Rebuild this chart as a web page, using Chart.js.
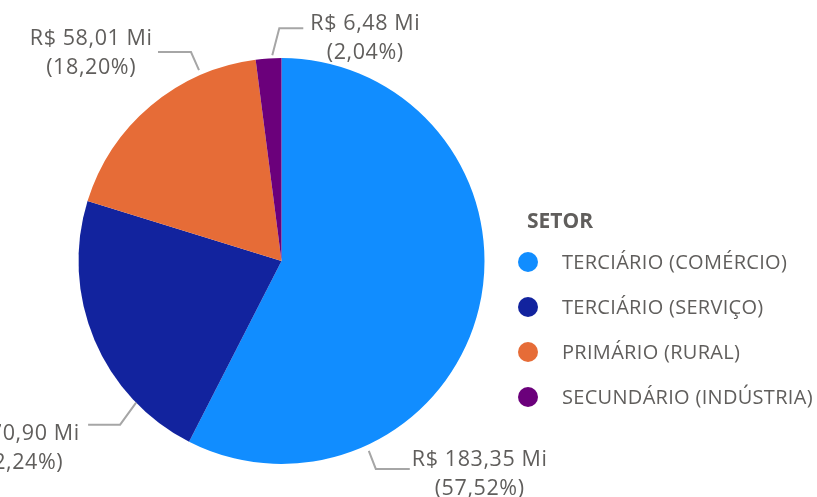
<!DOCTYPE html>
<html>
<head>
<meta charset="utf-8">
<script src="https://cdn.jsdelivr.net/npm/chart.js@4.4.1/dist/chart.umd.min.js"></script>
<style>
    html, body { margin: 0; padding: 0; background: #fff; overflow: hidden; }
    canvas { display: block; }
</style>
</head>
<body>
<canvas id="graficoSetor" width="817" height="497"></canvas>
<script>
// dados por setor (R$ milhões)
const setores = ["TERCIÁRIO (COMÉRCIO)", "TERCIÁRIO (SERVIÇO)", "PRIMÁRIO (RURAL)", "SECUNDÁRIO (INDÚSTRIA)"];
const valores = [183.35, 70.90, 58.01, 6.48];
const percentuais = [57.52, 22.24, 18.20, 2.04];
const cores = ["#118DFF", "#12239E", "#E66C37", "#6B007B"];

// posição das linhas de chamada (f = fração do arco onde a linha sai)
const chamadas = [
    { f: 0.75,  gap: 6, ex: 7,   ey: 18,  h: 34,  tx: 2,  ty: -3 },
    { f: 0.233, gap: 0, ex: -16, ey: 22,  h: -32, tx: -9, ty: 15 },
    { f: 0.755, gap: 5, ex: -8,  ey: -18, h: -33, tx: -6, ty: -7 },
    { f: 0.65,  gap: 3, ex: 7,   ey: -27, h: 24,  tx: 7,  ty: 2 }
];

const fonte = '"Segoe UI", "Open Sans", sans-serif';
const corTexto = "#605E5C";

function fmt(v) {
    return v.toFixed(2).replace(".", ",");
}

const rotulosPlugin = {
    id: "rotulos",
    afterDraw(chart) {
        const ctx = chart.ctx;
        const meta = chart.getDatasetMeta(0);
        ctx.save();
        meta.data.forEach(function (arc, i) {
            const c = chamadas[i];
            const p = arc.getProps(["x", "y", "startAngle", "endAngle", "outerRadius"], true);
            const ang = p.startAngle + c.f * (p.endAngle - p.startAngle);
            const r = p.outerRadius + c.gap;
            const x0 = p.x + r * Math.cos(ang);
            const y0 = p.y + r * Math.sin(ang);
            const x1 = x0 + c.ex, y1 = y0 + c.ey;
            const x2 = x1 + c.h;

            ctx.strokeStyle = "#A6A6A6";
            ctx.lineWidth = 2;
            ctx.beginPath();
            ctx.moveTo(x0, y0);
            ctx.lineTo(x1, y1);
            ctx.lineTo(x2, y1);
            ctx.stroke();

            const l1 = "R$ " + fmt(valores[i]) + " Mi";
            const l2 = "(" + fmt(percentuais[i]) + "%)";
            ctx.font = "21.5px " + fonte;
            ctx.letterSpacing = "0.6px";
            ctx.fillStyle = corTexto;
            ctx.textBaseline = "alphabetic";
            ctx.textAlign = "left";
            const w = ctx.measureText(l1).width - 0.6;
            const w2 = ctx.measureText(l2).width - 0.6;
            const left = c.h > 0 ? x2 + c.tx : x2 + c.tx - w;
            const base = y1 + c.ty;
            ctx.fillText(l1, left, base);
            ctx.fillText(l2, left + (w - w2) / 2, base + 29);
        });

        // legenda
        ctx.textAlign = "left";
        ctx.textBaseline = "alphabetic";
        ctx.fillStyle = corTexto;
        ctx.font = "bold 21px " + fonte;
        ctx.letterSpacing = "0px";
        ctx.fillText("SETOR", 527, 228);
        ctx.font = "20px " + fonte;
        ctx.letterSpacing = "0.3px";
        setores.forEach(function (s, i) {
            const y = 262 + i * 45;
            ctx.fillStyle = cores[i];
            ctx.beginPath();
            ctx.arc(528, y, 10, 0, Math.PI * 2);
            ctx.fill();
            ctx.fillStyle = corTexto;
            ctx.fillText(s, 562, y + 7);
        });
        ctx.restore();
    }
};

new Chart(document.getElementById("graficoSetor"), {
    type: "pie",
    data: {
        labels: setores,
        datasets: [{
            data: valores,
            backgroundColor: cores,
            borderWidth: 0
        }]
    },
    options: {
        responsive: false,
        animation: false,
        layout: { padding: { left: 78, right: 332, top: 58, bottom: 33 } },
        plugins: {
            legend: { display: false },
            tooltip: { enabled: false }
        }
    },
    plugins: [rotulosPlugin]
});
</script>
</body>
</html>
